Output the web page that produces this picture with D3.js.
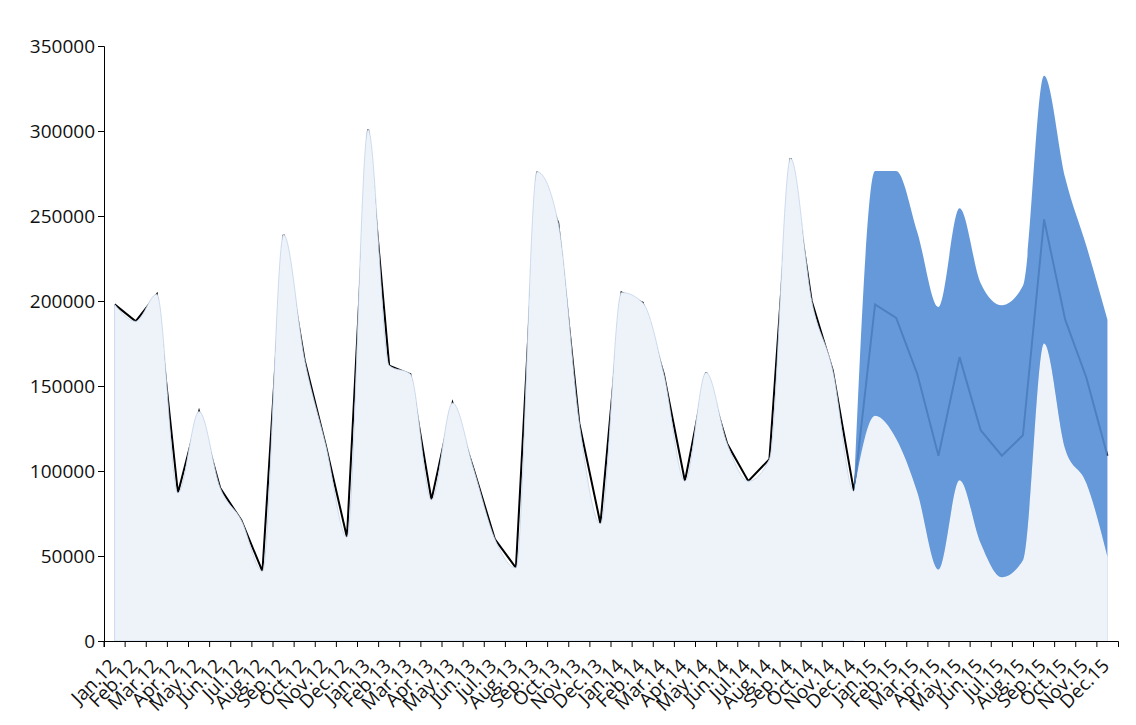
<!DOCTYPE html>
<html><head><meta charset="utf-8">
<script src="https://cdn.jsdelivr.net/npm/d3@7"></script>
<style>
body{margin:0;background:#fff}
svg{display:block}
.axis text{font-family:"Open Sans",sans-serif;font-size:19px;fill:#111}
</style>
</head><body>
<svg id="c" width="1136" height="725"></svg>
<script>
const months = ["Jan.12","Feb.12","Mar.12","Apr.12","May.12","Jun.12","Jul.12","Aug.12","Sep.12","Oct.12","Nov.12","Dec.12",
"Jan.13","Feb.13","Mar.13","Apr.13","May.13","Jun.13","Jul.13","Aug.13","Sep.13","Oct.13","Nov.13","Dec.13",
"Jan.14","Feb.14","Mar.14","Apr.14","May.14","Jun.14","Jul.14","Aug.14","Sep.14","Oct.14","Nov.14","Dec.14",
"Jan.15","Feb.15","Mar.15","Apr.15","May.15","Jun.15","Jul.15","Aug.15","Sep.15","Oct.15","Nov.15","Dec.15"];
const actual = [198000,188000,204000,87000,135000,90000,71000,41000,239000,165000,115000,61000,
301000,162000,157000,83000,140000,101000,60000,43000,276000,246000,128000,69000,
205000,199000,157000,94000,158000,116000,94000,107000,284000,200000,159000,88000];
const forecastMid  = [198000,190000,157000,109000,167000,124000,109000,121000,248000,189000,155000,109000];
const forecastLow  = [132500,119000,87500,42000,94500,57500,37500,47500,175000,113000,93000,49500];
const forecastHigh = [276500,276500,240500,196500,254500,210500,197500,209000,332500,272500,232500,189000];
const yTicks = [0,50000,100000,150000,200000,250000,300000,350000];

const svg = d3.select("#c");
const x = d3.scaleBand().domain(months).range([104,1118]).padding(0);
const y = d3.scaleLinear().domain([0,350000]).range([641,46]);
const bw = x.bandwidth();
const cx = i => x(months[i]) + bw/2;

const lineVals = actual.concat(forecastMid);
const lowVals = actual.concat(forecastLow);
const start = actual.length - 1; // Dec.14
const band = d3.range(start, months.length).map(i => ({
  i,
  lo: i < actual.length ? actual[i] : forecastLow[i - actual.length],
  hi: i < actual.length ? actual[i] : forecastHigh[i - actual.length]
}));

// black line (actual + forecast centre)
svg.append("path")
  .datum(lineVals)
  .attr("fill","none")
  .attr("stroke","#000")
  .attr("stroke-width",2)
  .attr("d", d3.line().x((d,i)=>cx(i)).y(d=>y(d)));

// light area
svg.append("path")
  .datum(lowVals)
  .attr("fill","#eef3fa")
  .attr("stroke","#c3d3ea")
  .attr("stroke-width",0.8)
  .attr("d", d3.area().x((d,i)=>cx(i)).y0(y(0)).y1(d=>y(d)).curve(d3.curveMonotoneX));

// light filler under band
svg.append("path")
  .datum(band)
  .attr("fill","#eef3fa")
  .attr("d", d3.area().x(d=>cx(d.i)).y0(y(0)).y1(d=>y(d.lo)).curve(d3.curveMonotoneX));

// forecast band
svg.append("path")
  .datum(band)
  .attr("fill","rgb(85,142,213)")
  .attr("fill-opacity",0.9)
  .attr("d", d3.area().x(d=>cx(d.i)).y0(d=>y(d.lo)).y1(d=>y(d.hi)).curve(d3.curveMonotoneX));

// axes
const gx = svg.append("g").attr("class","axis")
  .attr("transform","translate(0,641)")
  .call(d3.axisBottom(x));
gx.selectAll(".tick line").attr("transform",`translate(${-bw/2},0)`);
gx.selectAll(".tick text")
  .attr("x",0).attr("y",0).attr("dy",0)
  .style("text-anchor","end")
  .attr("transform","translate(3,26) rotate(-45)");

svg.append("g").attr("class","axis")
  .attr("transform","translate(104,0)")
  .call(d3.axisLeft(y).tickValues(yTicks).tickFormat(d3.format("d")));
</script>
</body></html>
